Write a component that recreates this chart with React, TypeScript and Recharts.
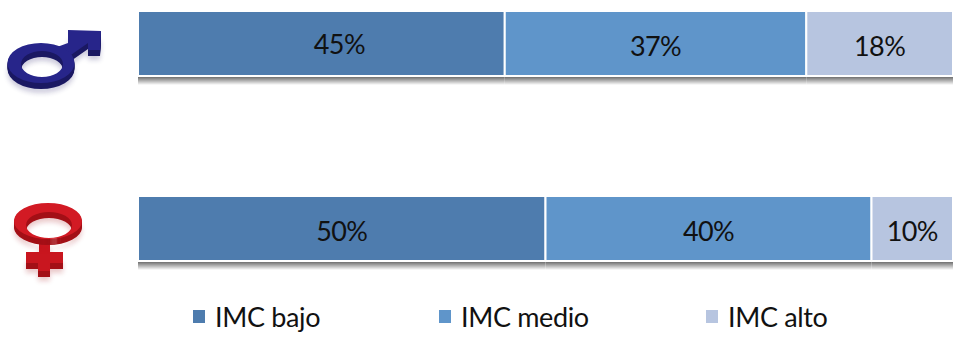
import { Bar, BarChart, LabelList, Legend, XAxis, YAxis } from "recharts";

const categories = ["Hombres", "Mujeres"];
const bajo = [45, 50];
const medio = [37, 40];
const alto = [18, 10];

const seriesNames = ["IMC bajo", "IMC medio", "IMC alto"];
const seriesColors = ["#4E7CAE", "#5F95CA", "#B7C5E0"];
const legendOffsets = [193, 439, 706];

const data = categories.map((sexo, i) => ({
    sexo,
    [seriesNames[0]]: bajo[i],
    [seriesNames[1]]: medio[i],
    [seriesNames[2]]: alto[i],
}));

const font = "Lato, 'Open Sans', sans-serif";
const depthSteps = [1, 2, 3, 4, 5, 6];

// rectangle with a white edge and a soft grey strip along its bottom
const ShadowedBar = (props: any) => {
    const { x, y, width, height, fill } = props;
    return (
        <g>
            <rect x={x} y={y + height + 1} width={width} height={8} fill="url(#barShadow)" />
            <rect x={x} y={y} width={width} height={height} fill={fill} stroke="#ffffff" strokeWidth={2} />
        </g>
    );
};

// flat outline stacked a few times downwards to look extruded
const Extruded = ({ d, side, face }: { d: string; side: string; face: string }) => (
    <g fillRule="evenodd">
        <path d={d} transform="translate(0 10)" fill={side} opacity={0.22} filter="url(#iconBlur)" />
        {depthSteps.map((s) => (
            <path key={s} d={d} transform={`translate(0 ${s})`} fill={side} />
        ))}
        <path d={d} fill={face} />
    </g>
);

const MaleIcon = () => {
    const arrow = "M68 30 L101 31 L100 50 L88 50 L88 43 L68 57 L57 47 L68 43 Z";
    const ring = "M41 43 A33.5 20 0 1 1 41 83 A33.5 20 0 1 1 41 43 Z M42 51 A21 13 0 1 0 42 77 A21 13 0 1 0 42 51 Z";
    return (
        <g>
            <Extruded d={arrow} side="#1A1862" face="#27258A" />
            <Extruded d={ring} side="#1A1862" face="#27258A" />
        </g>
    );
};

const FemaleIcon = () => {
    const ring = "M48 203 A34 18 0 1 1 48 239 A34 18 0 1 1 48 203 Z M49 212 A23 13 0 1 0 49 238 A23 13 0 1 0 49 212 Z";
    const cross = "M39 238 L50 238 L50 252 L63 252 L63 263 L50 263 L50 271 L38 271 L38 263 L26 263 L26 252 L39 252 Z";
    return (
        <g>
            <Extruded d={cross} side="#A30F16" face="#C9161F" />
            <Extruded d={ring} side="#A30F16" face="#D21A24" />
        </g>
    );
};

// the category axis shows the sex symbol instead of a word
const SexTick = (props: any) => {
    const { y, payload } = props;
    return payload.value === categories[0] ? (
        <g transform={`translate(0 ${y - 43.5})`}><MaleIcon /></g>
    ) : (
        <g transform={`translate(0 ${y - 228.5})`}><FemaleIcon /></g>
    );
};

const LegendRow = ({ payload }: any) => (
    <div style={{ position: "relative", width: 953, height: 40 }}>
        {seriesNames.map((name, i) => {
            const entry = (payload || []).find((p: any) => p.value === name);
            return (
                <div key={name} style={{ position: "absolute", left: legendOffsets[i], top: -1, display: "flex", alignItems: "center", fontFamily: font, fontSize: 27, letterSpacing: -0.35, color: "#111" }}>
                    <span style={{ width: 12, height: 13, background: entry?.color, marginRight: 10 }} />
                    {name}
                </div>
            );
        })}
    </div>
);

// percentage centred in its segment; the first male label sits further right and higher
const PercentLabel = (props: any) => {
    const { x, y, width, height, value, index, name } = props;
    const first = index === 0 && name === seriesNames[0];
    return (
        <text
            x={x + width / 2 + (first ? 18 : 0)}
            y={y + height / 2 + (first ? 0 : 2)}
            textAnchor="middle"
            dominantBaseline="central"
            fontFamily={font}
            fontSize={27}
            letterSpacing={-0.6}
            fill="#111"
        >
            {value}%
        </text>
    );
};

export default function App() {
    return (
        <div style={{ position: "absolute", left: 0, top: 0 }}>
            <BarChart
                width={953}
                height={338}
                data={data}
                layout="vertical"
                margin={{ top: 11, right: 0, left: 0, bottom: 37 }}
            >
                <defs>
                    <linearGradient id="barShadow" x1="0" y1="0" x2="0" y2="1">
                        <stop offset="0%" stopColor="#6f6f6f" />
                        <stop offset="100%" stopColor="#ffffff" />
                    </linearGradient>
                    <filter id="iconBlur" x="-20%" y="-20%" width="140%" height="140%">
                        <feGaussianBlur stdDeviation="2.5" />
                    </filter>
                </defs>
                <XAxis type="number" domain={[0, 100]} hide />
                <YAxis
                    type="category"
                    dataKey="sexo"
                    scale="point"
                    padding={{ top: 32.5, bottom: 32.5 }}
                    width={138}
                    axisLine={false}
                    tickLine={false}
                    tick={SexTick}
                />
                <Legend verticalAlign="bottom" content={LegendRow} wrapperStyle={{ top: 301, left: 0, bottom: "auto", width: 953 }} />
                {seriesNames.map((name, i) => (
                    <Bar
                        key={name}
                        dataKey={name}
                        stackId="imc"
                        barSize={65}
                        fill={seriesColors[i]}
                        shape={ShadowedBar}
                        isAnimationActive={false}
                    >
                        <LabelList
                            dataKey={name}
                            content={(p: any) => <PercentLabel {...p} name={name} />}
                        />
                    </Bar>
                ))}
            </BarChart>
        </div>
    );
}
